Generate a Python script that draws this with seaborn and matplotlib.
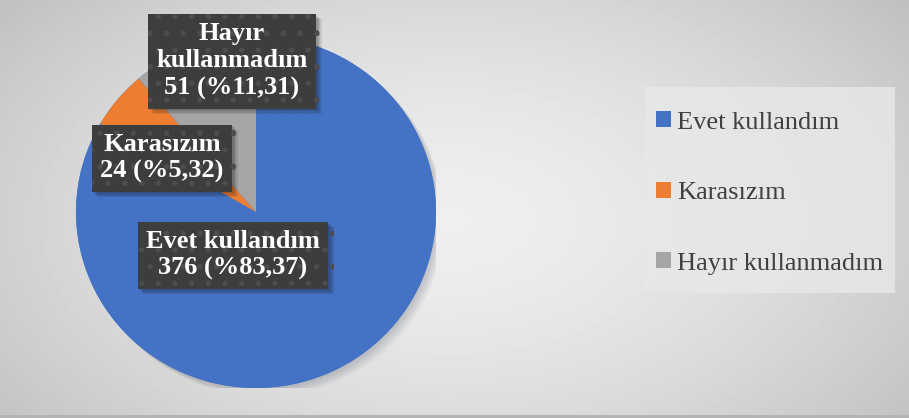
import numpy as np
import matplotlib
matplotlib.use("Agg")
import matplotlib.pyplot as plt
import matplotlib.patheffects as pe
from matplotlib.patches import Patch, Ellipse, Rectangle
import seaborn as sns

# data
categories = ["Evet kullandım", "Karasızım", "Hayır kullanmadım"]
counts = [376, 24, 51]
percents = ["83,37", "5,32", "11,31"]
box_names = ["Evet kullandım", "Karasızım", "Hayır\nkullanmadım"]
colors = ["#4472C4", "#ED7D31", "#A5A5A5"]

sns.set_theme(style="white")
plt.rcParams["font.family"] = ["Liberation Serif", "DejaVu Serif"]
plt.rcParams["hatch.linewidth"] = 1.5

W, H = 909, 418
fig = plt.figure(figsize=(W / 100, H / 100), dpi=100)

# soft radial background like the office chart area
bg = fig.add_axes([0, 0, 1, 1])
yy, xx = np.mgrid[0:H, 0:W]
d = np.sqrt(((xx - 450) / 560) ** 2 + ((yy - 220) / 330) ** 2)
shade = 0.935 - 0.17 * np.clip(d, 0, 1.2) ** 1.6
bg.imshow(shade, cmap="gray", vmin=0, vmax=1, aspect="auto", extent=[0, 1, 0, 1])
bg.add_patch(Rectangle((0, 0), 1, 3 / H, color="#b4b4b4", lw=0))
# legend background panel
bg.add_patch(Rectangle((645 / W, 1 - 293 / H), 250 / W, 206 / H,
                       fc="#e8e8e8", alpha=0.8, lw=0))
bg.set_xlim(0, 1)
bg.set_ylim(0, 1)
bg.axis("off")

# pie area (slightly wider than tall, like the reference)
cx, cy, rx, ry = 256, 212, 180, 176
ax = fig.add_axes([(cx - rx) / W, 1 - (cy + ry) / H, 2 * rx / W, 2 * ry / H])
shadow = Ellipse((0, 0), 2, 2, fc=colors[0], lw=0, zorder=0)
shadow.set_path_effects(
    [pe.SimplePatchShadow(offset=(k, -k), alpha=0.035) for k in range(1, 7)]
    + [pe.Normal()])
ax.add_patch(shadow)
wedges, _ = ax.pie(counts, colors=colors, startangle=90, counterclock=False,
                   wedgeprops=dict(linewidth=0))
ax.set_aspect("auto")
ax.set_xlim(-1, 1)
ax.set_ylim(-1, 1)
ax.axis("off")

# data label boxes (pixel centres in the figure)
label_pos = [(233, 255), (162, 158), (232, 61)]
for name, n, pct, (lx, ly) in zip(box_names, counts, percents, label_pos):
    t = fig.text(lx / W, 1 - ly / H, f"{name}\n{n} (%{pct})",
                 ha="center", va="center", color="white", fontsize=19,
                 fontweight="bold", linespacing=1.25,
                 bbox=dict(boxstyle="square,pad=0.32", fc="#3d3d3d",
                           ec="#4d4d4d", lw=0, hatch="."))
    t.get_bbox_patch().set_path_effects(
        [pe.SimplePatchShadow(offset=(k, -k), alpha=0.1) for k in range(1, 5)]
        + [pe.Normal()])

handles = [Patch(facecolor=c, edgecolor="none", label=l)
           for c, l in zip(colors, categories)]
leg = fig.legend(handles=handles, loc="center left",
                 bbox_to_anchor=(635 / W, 1 - 193 / H),
                 frameon=False, fontsize=19,
                 labelcolor="#404040", handlelength=0.55, handleheight=0.55,
                 handletextpad=0.25, labelspacing=1.83, borderpad=0.3)

fig.savefig("out.png", dpi=100)
